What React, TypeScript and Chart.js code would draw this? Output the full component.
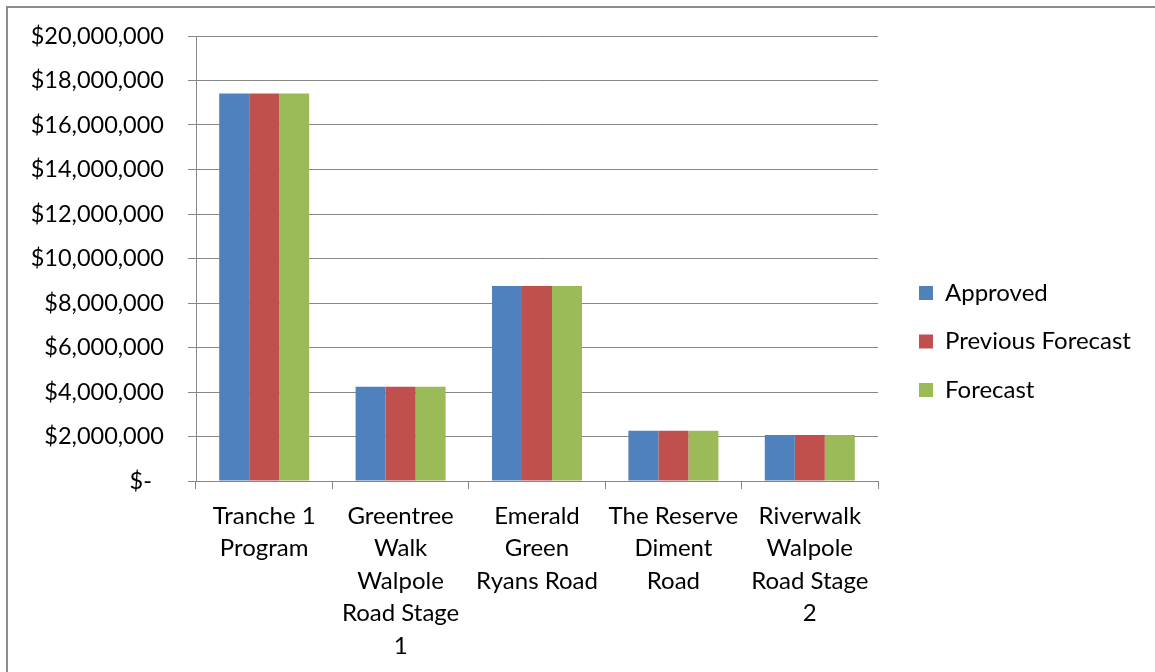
import { useEffect, useRef } from "react";
import { Chart, registerables } from "chart.js";

Chart.register(...registerables);

const categories: string[][] = [
  ["Tranche 1", "Program"],
  ["Greentree", "Walk", "Walpole", "Road Stage", "1"],
  ["Emerald", "Green", "Ryans Road"],
  ["The Reserve", "Diment", "Road"],
  ["Riverwalk", "Walpole", "Road Stage", "2"],
];
const seriesNames = ["Approved", "Previous Forecast", "Forecast"];
const approved = [17420000, 4240000, 8760000, 2260000, 2070000];
const previousForecast = [17420000, 4240000, 8760000, 2260000, 2070000];
const forecast = [17420000, 4240000, 8760000, 2260000, 2070000];
const yMin = 0;
const yMax = 20000000;
const yStep = 2000000;
const zeroLabel = "$-  ";

const COLORS = ["#4F81BD", "#C0504D", "#9BBB59"];
const GRID = "#878787";
const FONT = "Lato, 'Noto Sans', sans-serif";

const CANVAS_W = 1150;
const CANVAS_H = 680;
const Y_AXIS_W = 188;
const X_AXIS_H = 207;
const PLOT_RIGHT = 870;
const LEGEND_DX = 16.5;
const LEGEND_DY = -20.5;

const legendShift = {
  id: "legendShift",
  afterLayout(chart: any) {
    const lg = chart.legend;
    if (lg) {
      lg.left += LEGEND_DX;
      lg.right += LEGEND_DX;
      lg.top += LEGEND_DY;
      lg.bottom += LEGEND_DY;
    }
  },
};

function fmt(v: number): string {
  if (v === 0) return zeroLabel;
  return "$" + Math.round(v).toLocaleString("en-US");
}

export default function App() {
  const ref = useRef<HTMLCanvasElement | null>(null);

  useEffect(() => {
    document.body.style.overflow = "hidden";
    document.documentElement.style.overflow = "hidden";
    const canvas = ref.current;
    if (!canvas) return;
    const chart: any = new Chart(canvas, {
      type: "bar",
      data: {
        labels: categories,
        datasets: [
          { label: seriesNames[0], data: approved, backgroundColor: COLORS[0] },
          { label: seriesNames[1], data: previousForecast, backgroundColor: COLORS[1] },
          { label: seriesNames[2], data: forecast, backgroundColor: COLORS[2] },
        ],
      },
      options: {
        responsive: false,
        animation: false,
        devicePixelRatio: 1,
        layout: { padding: { top: 28, left: 0, right: 40, bottom: 0 } },
        datasets: {
          bar: { categoryPercentage: 0.66, barPercentage: 1.0 },
        },
        plugins: {
          legend: {
            position: "right",
            align: "center",
            labels: {
              boxWidth: 14,
              boxHeight: 14,
              padding: 24.5,
              color: "#000",
              font: { family: FONT, size: 24 },
            },
          },
          tooltip: { enabled: false },
        },
        scales: {
          x: {
            afterFit(scale: any) {
              scale.height = X_AXIS_H;
            },
            grid: {
              drawOnChartArea: false,
              drawTicks: true,
              tickLength: 8,
              color: GRID,
              lineWidth: 1,
            },
            border: { color: GRID, width: 1 },
            ticks: {
              color: "#000",
              padding: 11,
              maxRotation: 0,
              autoSkip: false,
              font: { family: FONT, size: 24, lineHeight: 1.354 },
            },
          },
          y: {
            min: yMin,
            max: yMax,
            afterFit(scale: any) {
              scale.width = Y_AXIS_W;
              scale.paddingTop = 0;
              scale.paddingBottom = 0;
            },
            grid: {
              color: GRID,
              lineWidth: 1,
              drawTicks: true,
              tickLength: 8,
            },
            border: { color: GRID, width: 1 },
            ticks: {
              stepSize: yStep,
              color: "#000",
              padding: 24,
              font: { family: FONT, size: 23.5 },
              callback: (v: any) => fmt(Number(v)),
            },
          },
        },
      },
      plugins: [legendShift],
    });
    // align the plot's right edge with the reference layout
    const diff = PLOT_RIGHT - chart.chartArea.right;
    if (Math.abs(diff) > 0.1) {
      chart.options.layout.padding.right -= diff;
      chart.update();
    }
    return () => chart.destroy();
  }, []);

  return (
    <div
      style={{
        position: "fixed",
        left: 6,
        top: 6,
        width: 1200,
        height: 700,
        border: "2px solid #8c8c8c",
        boxSizing: "border-box",
        background: "#fff",
      }}
    >
      <canvas
        ref={ref}
        width={CANVAS_W}
        height={CANVAS_H}
        style={{ display: "block", width: CANVAS_W, height: CANVAS_H }}
      />
    </div>
  );
}
